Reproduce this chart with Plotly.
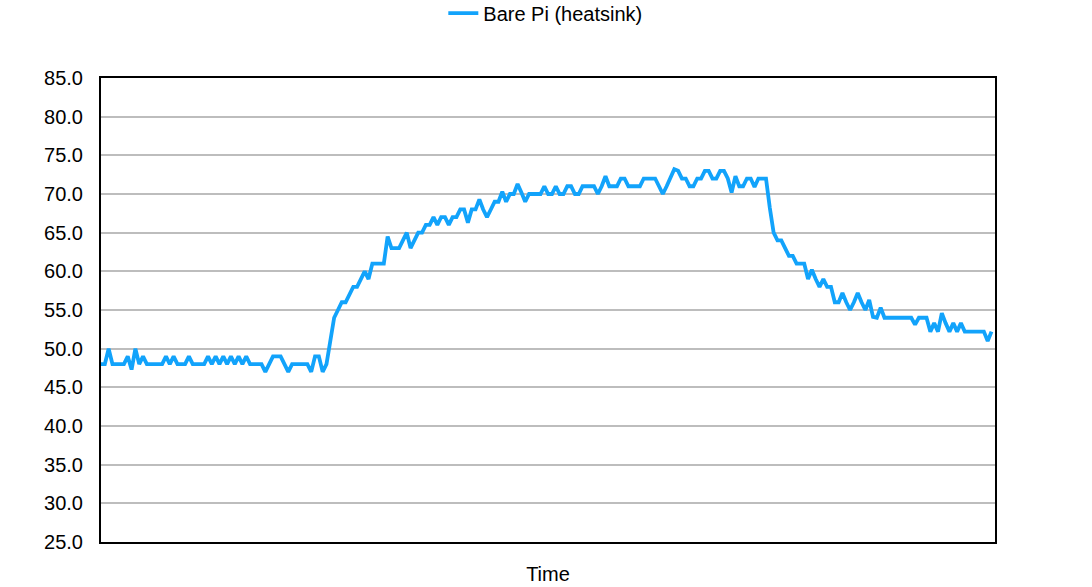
import plotly.graph_objects as go

series_name = "Bare Pi (heatsink)"
x_title = "Time"
y_ticks = [25, 30, 35, 40, 45, 50, 55, 60, 65, 70, 75, 80, 85]

temps = [
    48, 48, 50, 48, 48, 48, 48, 49, 47.3, 50,
    48, 49, 48, 48, 48, 48, 48, 49, 48, 49,
    48, 48, 48, 49, 48, 48, 48, 48, 49, 48,
    49, 48, 49, 48, 49, 48, 49, 48, 49, 48,
    48, 48, 48, 47, 48, 49, 49, 49, 48, 47,
    48, 48, 48, 48, 48, 47, 49, 49, 47, 48,
    51, 54, 55, 56, 56, 57, 58, 58, 59, 60,
    59, 61, 61, 61, 61, 64.5, 63, 63, 63, 64,
    65, 63, 64, 65, 65, 66, 66, 67, 66, 67,
    67, 66, 67, 67, 68, 68, 66.3, 68, 68, 69.3,
    68, 67, 68, 69, 69, 70.3, 69, 70, 70, 71.3,
    70.2, 69, 70, 70, 70, 70, 71, 70, 70, 71,
    70, 70, 71, 71, 70, 70, 71, 71, 71, 71,
    70, 71, 72.3, 71, 71, 71, 72, 72, 71, 71,
    71, 71, 72, 72, 72, 72, 71, 70, 71, 72,
    73.2, 73, 72, 72, 71, 71, 72, 72, 73, 73,
    72, 72, 73, 73, 72, 70.2, 72.3, 71, 71, 72,
    72, 70.9, 72, 72, 72, 68.2, 65, 64, 64, 63,
    62, 62, 61, 61, 61, 59, 60.2, 59, 58, 59,
    58, 58, 56, 56, 57.2, 56, 55, 56, 57.2, 56,
    55, 56.3, 54.1, 54, 55.3, 54, 54, 54, 54, 54,
    54, 54, 54, 53.1, 54, 54, 54, 52.2, 53.3, 52.2,
    54.6, 53.3, 52.2, 53.3, 52.2, 53.3, 52.2, 52.2, 52.2, 52.2,
    52.2, 52.2, 51, 52.2,
]
idx = list(range(len(temps)))

fig = go.Figure()
fig.add_trace(go.Scatter(
    x=idx, y=temps, mode="lines", name=series_name,
    line=dict(color="#12a3fb", width=3.8),
))

font_family = "Liberation Sans, Arial, Helvetica, sans-serif"
last = len(temps) - 1
fig.update_layout(
    width=1092, height=587,
    margin=dict(l=101, r=97, t=78, b=45, autoexpand=False),
    paper_bgcolor="white", plot_bgcolor="white",
    font=dict(family=font_family, size=20, color="black"),
    showlegend=True,
    legend=dict(orientation="h", x=0.497, xanchor="center", y=1.14, yanchor="middle",
                font=dict(size=20), bgcolor="rgba(0,0,0,0)"),
    xaxis=dict(
        range=[0, last * 894 / 890.5],
        showticklabels=False, showgrid=False, zeroline=False,
        showline=True, linecolor="black", linewidth=2, mirror=True,
        ticks="",
        title=dict(text=x_title, font=dict(size=20), standoff=24),
    ),
    yaxis=dict(
        range=[25, 85],
        tickvals=y_ticks, ticktext=[f"{v:.1f}" for v in y_ticks],
        showgrid=True, gridcolor="#bdbdbd", gridwidth=1.5,
        zeroline=False,
        showline=True, linecolor="black", linewidth=2, mirror=True,
        ticks="", ticklabelstandoff=12,
        tickfont=dict(size=20),
    ),
)

fig.write_html("out.html")
